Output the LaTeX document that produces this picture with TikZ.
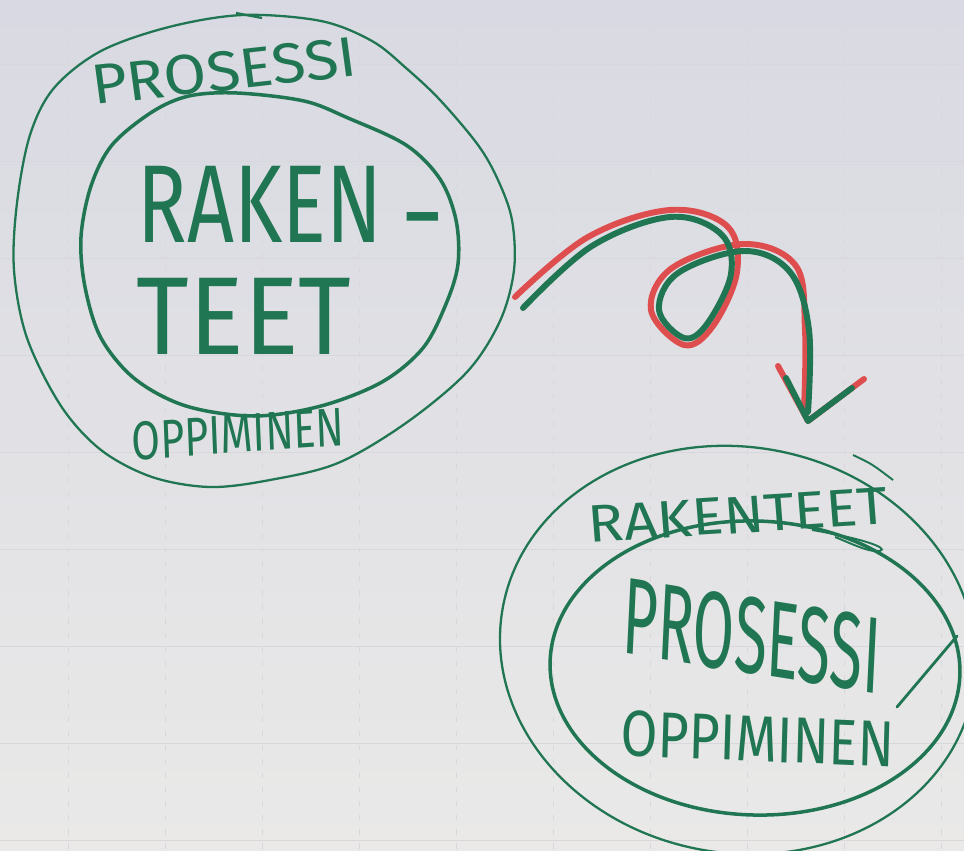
\documentclass[tikz,border=0pt]{standalone}
\usepackage{fontspec}
\setmainfont{Fira Sans}
\usetikzlibrary{shapes.geometric}
\definecolor{papertop}{RGB}{216,217,226}
\definecolor{paperbot}{RGB}{234,233,232}
\definecolor{gridline}{RGB}{216,216,220}
\definecolor{pengreen}{RGB}{32,118,82}
\definecolor{penred}{RGB}{222,78,78}
\tikzset{
  ring/.style={draw=pengreen, line width=1.3pt},
  ringthick/.style={draw=pengreen, line width=2pt},
  hand/.style={text=pengreen, inner sep=0pt},
  strand/.style={line width=3.4pt, line cap=round, line join=round},
}
\begin{document}
\begin{tikzpicture}[x=0.02cm,y=-0.02cm]
\useasboundingbox (0,0) rectangle (964,851);
\shade[top color=papertop, bottom color=paperbot] (0,0) rectangle (964,851);
% faint grid of the flip chart
\foreach \gx in {68,165,262,359,456,553,650,747,844,941}
  \draw[gridline, line width=0.5pt, dash pattern=on 3pt off 5pt] (\gx,0) -- (\gx,851);
\foreach \gy in {64,161,258,355,452,549,646,743,840}
  \draw[gridline, line width=0.5pt] (0,\gy) -- (964,\gy);
% left group
\draw[ring] plot[smooth cycle, tension=0.55] coordinates {
  (243,15) (169,27) (101,51) (54,88) (30,135) (17,203) (14,270) (27,338) (61,406)
  (101,450) (152,477) (210,487) (270,480) (338,463) (406,423) (467,372) (500,321)
  (514,270) (512,220) (498,180) (478,145) (440,100) (406,68) (372,41) (321,21)};
\draw[ring] (236,13) -- (262,18);
\draw[ringthick] plot[smooth cycle, tension=0.55] coordinates {
  (237,93) (304,101) (348,118) (406,145) (440,179) (456,220) (458,264) (446,304)
  (423,348) (382,382) (321,406) (254,416) (186,406) (135,379) (101,338) (85,287)
  (81,237) (91,186) (112,145) (152,112) (189,96)};
\node[hand, font=\fontsize{32}{33}\selectfont, xscale=1.1, rotate=7] (lprs) at (224,71) {PROSESSI};
\node[hand, font=\fontsize{63}{64}\selectfont, xscale=0.74] (lrak) at (260,204) {RAKEN};
\node[hand, font=\fontsize{63}{64}\selectfont] (ldash) at (423,232) {-};
\node[hand, font=\fontsize{63}{64}\selectfont, xscale=0.92] (lteet) at (244,316) {TEET};
\node[hand, font=\fontsize{31}{32}\selectfont, xscale=0.76, rotate=3] (lopp) at (238,434) {OPPIMINEN};
% right group
\node[draw=pengreen, line width=1.3pt, ellipse, minimum width=478*0.02cm, minimum height=406*0.02cm, rotate=-10] (rout) at (738,650) {};
\node[draw=pengreen, line width=2pt, ellipse, minimum width=410*0.02cm, minimum height=294*0.02cm, rotate=-2] (rin) at (755,668) {};
\draw[pengreen, line width=1.1pt] (853,455) .. controls (872,464) .. (893,480);
\node[hand, font=\fontsize{30}{31}\selectfont, xscale=1.12, rotate=4] (rrak) at (738,515) {RAKENTEET};
\draw[pengreen, line width=1.1pt] (812,530) .. controls (860,538) and (890,548) .. (880,551) .. controls (870,553) and (850,543) .. (835,537);
\node[hand, font=\fontsize{62}{63}\selectfont, xscale=0.55, rotate=-5] (rprs) at (752,636) {PROSESSI};
\draw[pengreen, line width=1.6pt, line cap=round] (957,636) -- (897,707);
\node[hand, font=\fontsize{37}{38}\selectfont, xscale=0.82, rotate=-2] (ropp) at (758,739) {OPPIMINEN};
% looped arrow
\coordinate (tip) at (808,421);
\draw[strand, penred] plot[smooth, tension=0.6] coordinates {(515,297) (588,237) (670,210) (727,226) (737,272) (713,326) (684,345) (651,310) (672,268) (744,244) (796,266) (805,330) (804,410)};
\draw[strand, pengreen] plot[smooth, tension=0.6] coordinates {(523,308) (592,246) (670,217) (721,234) (731,274) (707,324) (684,338) (659,310) (678,273) (744,251) (790,272) (809,330) (808,412)};
\draw[strand, penred] (778,366) -- (tip) -- (864,379);
\draw[strand, pengreen] (786,378) -- (tip) -- (852,388);
\end{tikzpicture}
\end{document}
